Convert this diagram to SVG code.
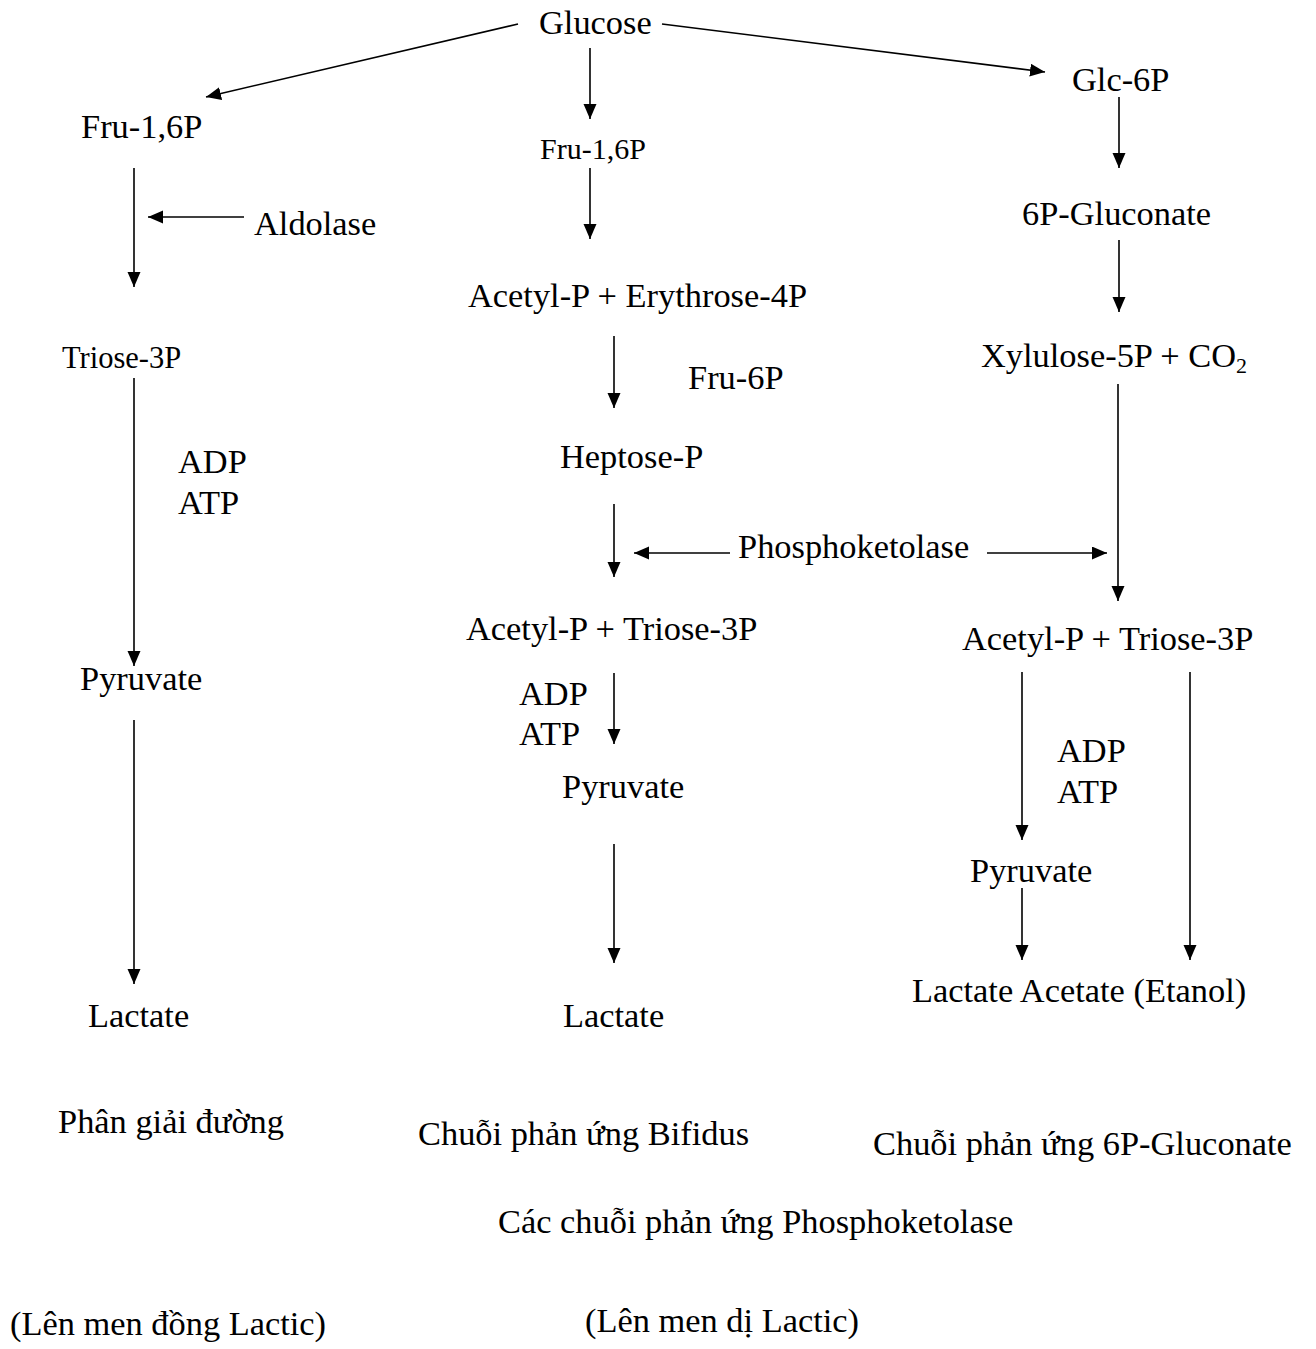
<svg xmlns="http://www.w3.org/2000/svg" width="1316" height="1349" viewBox="0 0 1316 1349">
<style>
text{font-family:"Liberation Serif","Times New Roman",serif;font-size:34.4px;fill:#000}
.sm{font-size:30.5px}
.sub{font-size:22px}
.c{stroke:#000;stroke-width:1.6;fill:none;marker-end:url(#ah)}
</style>
<defs>
<marker id="ah" markerUnits="userSpaceOnUse" markerWidth="16" markerHeight="14" refX="15" refY="6.5" orient="auto">
<path d="M0,0 L15,6.5 L0,13 Z" fill="#000"/>
</marker>
</defs>
<rect width="1316" height="1349" fill="#fff"/>
<g id="connectors">
<line class="c" x1="518" y1="24" x2="206" y2="97"/>
<line class="c" x1="590" y1="48" x2="590" y2="119"/>
<line class="c" x1="662" y1="24" x2="1045" y2="72"/>
<line class="c" x1="134" y1="168" x2="134" y2="287"/>
<line class="c" x1="244" y1="217" x2="148" y2="217"/>
<line class="c" x1="590" y1="168" x2="590" y2="239"/>
<line class="c" x1="1119" y1="97" x2="1119" y2="168"/>
<line class="c" x1="1119" y1="240" x2="1119" y2="312"/>
<line class="c" x1="614" y1="336" x2="614" y2="408"/>
<line class="c" x1="614" y1="504" x2="614" y2="577"/>
<line class="c" x1="730" y1="553" x2="634" y2="553"/>
<line class="c" x1="987" y1="553" x2="1107" y2="553"/>
<line class="c" x1="1118" y1="384" x2="1118" y2="601"/>
<line class="c" x1="134" y1="378" x2="134" y2="666"/>
<line class="c" x1="134" y1="720" x2="134" y2="984"/>
<line class="c" x1="614" y1="673" x2="614" y2="744"/>
<line class="c" x1="614" y1="844" x2="614" y2="963"/>
<line class="c" x1="1022" y1="672" x2="1022" y2="840"/>
<line class="c" x1="1190" y1="672" x2="1190" y2="960"/>
<line class="c" x1="1022" y1="888" x2="1022" y2="960"/>
</g>
<g id="glucose"><text x="539" y="34">Glucose</text></g>
<g id="fru16p-left"><text x="81" y="138">Fru-1,6P</text></g>
<g id="fru16p-mid"><text class="sm" x="540" y="159" style="font-size:30px">Fru-1,6P</text></g>
<g id="glc6p"><text x="1072" y="91">Glc-6P</text></g>
<g id="aldolase"><text x="254" y="235">Aldolase</text></g>
<g id="gluconate6p"><text x="1022" y="225">6P-Gluconate</text></g>
<g id="acetyl-erythrose"><text x="468" y="307">Acetyl-P + Erythrose-4P</text></g>
<g id="triose-left"><text class="sm" x="62" y="368">Triose-3P</text></g>
<g id="xylulose"><text x="981" y="367">Xylulose-5P + CO<tspan class="sub" dy="6">2</tspan></text></g>
<g id="fru6p"><text x="688" y="389">Fru-6P</text></g>
<g id="heptose"><text x="560" y="468">Heptose-P</text></g>
<g id="adp-left"><text x="178" y="473">ADP</text><text x="178" y="514">ATP</text></g>
<g id="phosphoketolase"><text x="738" y="558">Phosphoketolase</text></g>
<g id="acetyl-triose-mid"><text x="466" y="640">Acetyl-P + Triose-3P</text></g>
<g id="acetyl-triose-right"><text x="962" y="650">Acetyl-P + Triose-3P</text></g>
<g id="pyruvate-left"><text x="80" y="690">Pyruvate</text></g>
<g id="adp-mid"><text x="519" y="705">ADP</text><text x="519" y="745">ATP</text></g>
<g id="adp-right"><text x="1057" y="762">ADP</text><text x="1057" y="803">ATP</text></g>
<g id="pyruvate-mid"><text x="562" y="798">Pyruvate</text></g>
<g id="pyruvate-right"><text x="970" y="882">Pyruvate</text></g>
<g id="lactate-acetate"><text x="912" y="1002">Lactate Acetate (Etanol)</text></g>
<g id="lactate-left"><text x="88" y="1027">Lactate</text></g>
<g id="lactate-mid"><text x="563" y="1027">Lactate</text></g>
<g id="label-glycolysis"><text x="58" y="1133">Phân giải đường</text></g>
<g id="label-bifidus"><text x="418" y="1145">Chuỗi phản ứng Bifidus</text></g>
<g id="label-6pg"><text x="873" y="1155">Chuỗi phản ứng 6P-Gluconate</text></g>
<g id="label-pk"><text x="498" y="1233">Các chuỗi phản ứng Phosphoketolase</text></g>
<g id="label-homo"><text x="10" y="1335">(Lên men đồng Lactic)</text></g>
<g id="label-hetero"><text x="585" y="1332">(Lên men dị Lactic)</text></g>
</svg>
